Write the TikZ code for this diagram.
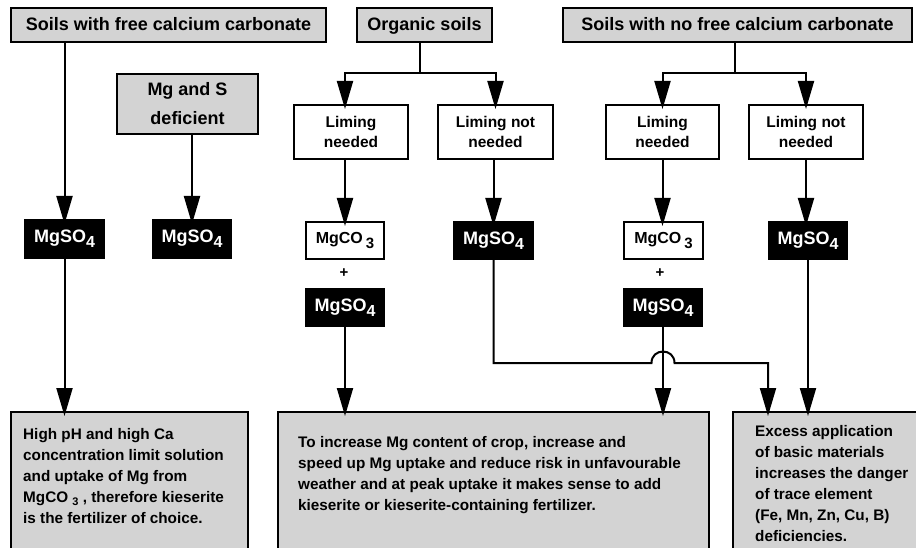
\documentclass[tikz,border=0pt]{standalone}
\usepackage{fontspec}
\setmainfont{Liberation Sans}
\usetikzlibrary{arrows.meta,calc}
\definecolor{boxgray}{RGB}{211,211,211}
\newcommand{\MgSOf}{MgSO\raisebox{-5pt}{\fontsize{16}{16}\selectfont 4}}
\newcommand{\MgCOt}{MgCO\hspace{3pt}\raisebox{-5pt}{\fontsize{15}{15}\selectfont 3}}
\begin{document}
\begin{tikzpicture}[x=1pt,y=-1pt,
  box/.style={draw=black, line width=2pt, inner sep=0pt, anchor=north west, align=center},
  graybox/.style={box, fill=boxgray},
  whitebox/.style={box, fill=white},
  blackbox/.style={box, fill=black, text=white, font=\fontsize{18}{18}\selectfont\bfseries},
  topfont/.style={font=\fontsize{18}{22}\selectfont\bfseries, text height=15pt, text depth=3pt},
  mgsfont/.style={font=\fontsize{18}{29}\selectfont\bfseries},
  limfont/.style={font=\fontsize{15.5}{20}\selectfont\bfseries},
  cofont/.style={font=\fontsize{16}{16}\selectfont\bfseries},
  plusfont/.style={font=\fontsize{15}{15}\selectfont\bfseries, inner sep=0pt},
  bodytext/.style={anchor=north west, align=left, inner sep=0pt, font=\fontsize{15.3}{21}\selectfont\bfseries},
  conn/.style={line width=2pt},
  arr/.style={conn, -{Triangle[length=28pt,width=16pt]}, shorten >=-5pt}]
\useasboundingbox (0,0) rectangle (916,548);
\fill[white] (0,0) rectangle (916,548);

% top row
\node[graybox, topfont, minimum width=315pt, minimum height=34pt] (t1) at (10,7) {Soils with free calcium carbonate};
\node[graybox, topfont, minimum width=135pt, minimum height=34pt] (t2) at (356,7) {Organic soils};
\node[graybox, topfont, minimum width=349pt, minimum height=34pt] (t3) at (562,7) {Soils with no free calcium carbonate};
\node[graybox, mgsfont, minimum width=141pt, minimum height=60pt] (mgs) at (116,73) {Mg and S\\deficient};

% liming boxes
\node[whitebox, limfont, minimum width=114pt, minimum height=54pt] (L1) at (293,104) {Liming\\needed};
\node[whitebox, limfont, minimum width=115pt, minimum height=54pt] (L2) at (437,104) {Liming not\\needed};
\node[whitebox, limfont, minimum width=113pt, minimum height=54pt] (L3) at (605,104) {Liming\\needed};
\node[whitebox, limfont, minimum width=114pt, minimum height=54pt] (L4) at (748,104) {Liming not\\needed};

% fertilizer boxes
\node[blackbox, minimum width=79pt, minimum height=38pt] (m1) at (24,219) {\MgSOf};
\node[blackbox, minimum width=78pt, minimum height=38pt] (m2) at (152,219) {\MgSOf};
\node[whitebox, cofont, minimum width=78pt, minimum height=37pt] (c1) at (305,221) {\MgCOt};
\node[plusfont] (p1) at (344,273) {+};
\node[blackbox, minimum width=78pt, minimum height=37pt] (s1) at (305,288) {\MgSOf};
\node[blackbox, minimum width=79pt, minimum height=37pt] (m3) at (453,221) {\MgSOf};
\node[whitebox, cofont, minimum width=79pt, minimum height=37pt] (c2) at (623,221) {\MgCOt};
\node[plusfont] (p2) at (660,273) {+};
\node[blackbox, minimum width=78pt, minimum height=37pt] (s2) at (623,288) {\MgSOf};
\node[blackbox, minimum width=78pt, minimum height=37pt] (m4) at (768,221) {\MgSOf};

% bottom boxes
\node[graybox, minimum width=237pt, minimum height=160pt] (r1) at (10,411) {};
\node[graybox, minimum width=431pt, minimum height=160pt] (r2) at (277,411) {};
\node[graybox, minimum width=200pt, minimum height=160pt] (r3) at (732,411) {};
\node[bodytext] (r1t) at (23,428) {High pH and high Ca\\concentration limit solution\\and uptake of Mg from\\MgCO \raisebox{-3pt}{\fontsize{11}{11}\selectfont 3} , therefore kieserite\\is the fertilizer of choice.};
\node[bodytext] (r2t) at (298,436) {To increase Mg content of crop, increase and\\speed up Mg uptake and reduce risk in unfavourable\\weather and at peak uptake it makes sense to add\\kieserite or kieserite-containing fertilizer.};
\node[bodytext] (r3t) at (755,425) {Excess application\\of basic materials\\increases the danger\\of trace element\\(Fe, Mn, Zn, Cu, B)\\deficiencies.};

% coordinates
\coordinate (f1) at (420,73);
\coordinate (f2) at (735,73);
\coordinate (hopy) at (0,363);
\coordinate (r3a) at ($(r3.north west)+(36,0)$);

% connectors
\draw[arr] (m1.north |- t1.south) -- (m1.north);
\draw[arr] (m1.south) -- (m1.south |- r1.north);
\draw[arr] (m2.north |- mgs.south) -- (m2.north);

\draw[conn] (f1 |- t2.south) -- (f1);
\draw[arr] (f1) -| (c1.north |- L1.north);
\draw[arr] (f1) -| (L2.north);
\draw[arr] (c1.north |- L1.south) -- (c1.north);
\draw[arr] (s1.south) -- (s1.south |- r2.north);
\draw[arr] (m3.north |- L2.south) -- (m3.north);

\draw[conn] (f2 |- t3.south) -- (f2);
\draw[arr] (f2) -| (L3.north);
\draw[arr] (f2) -| (L4.north);
\draw[arr] (L3.south) -- (L3.south |- c2.north);
\draw[arr] (s2.south) -- (s2.south |- r2.north);
\draw[arr] (L4.south) -- (L4.south |- m4.north);
\draw[arr] (m4.south) -- (m4.south |- r3.north);

\draw[arr] (m3.south) -- (m3.south |- hopy) -- ($(s2.south |- hopy)+(-11.5,0)$)
  .. controls +(0,-15.3) and +(0,-15.3) .. ($(s2.south |- hopy)+(11.5,0)$) -| (r3a);
\end{tikzpicture}
\end{document}
